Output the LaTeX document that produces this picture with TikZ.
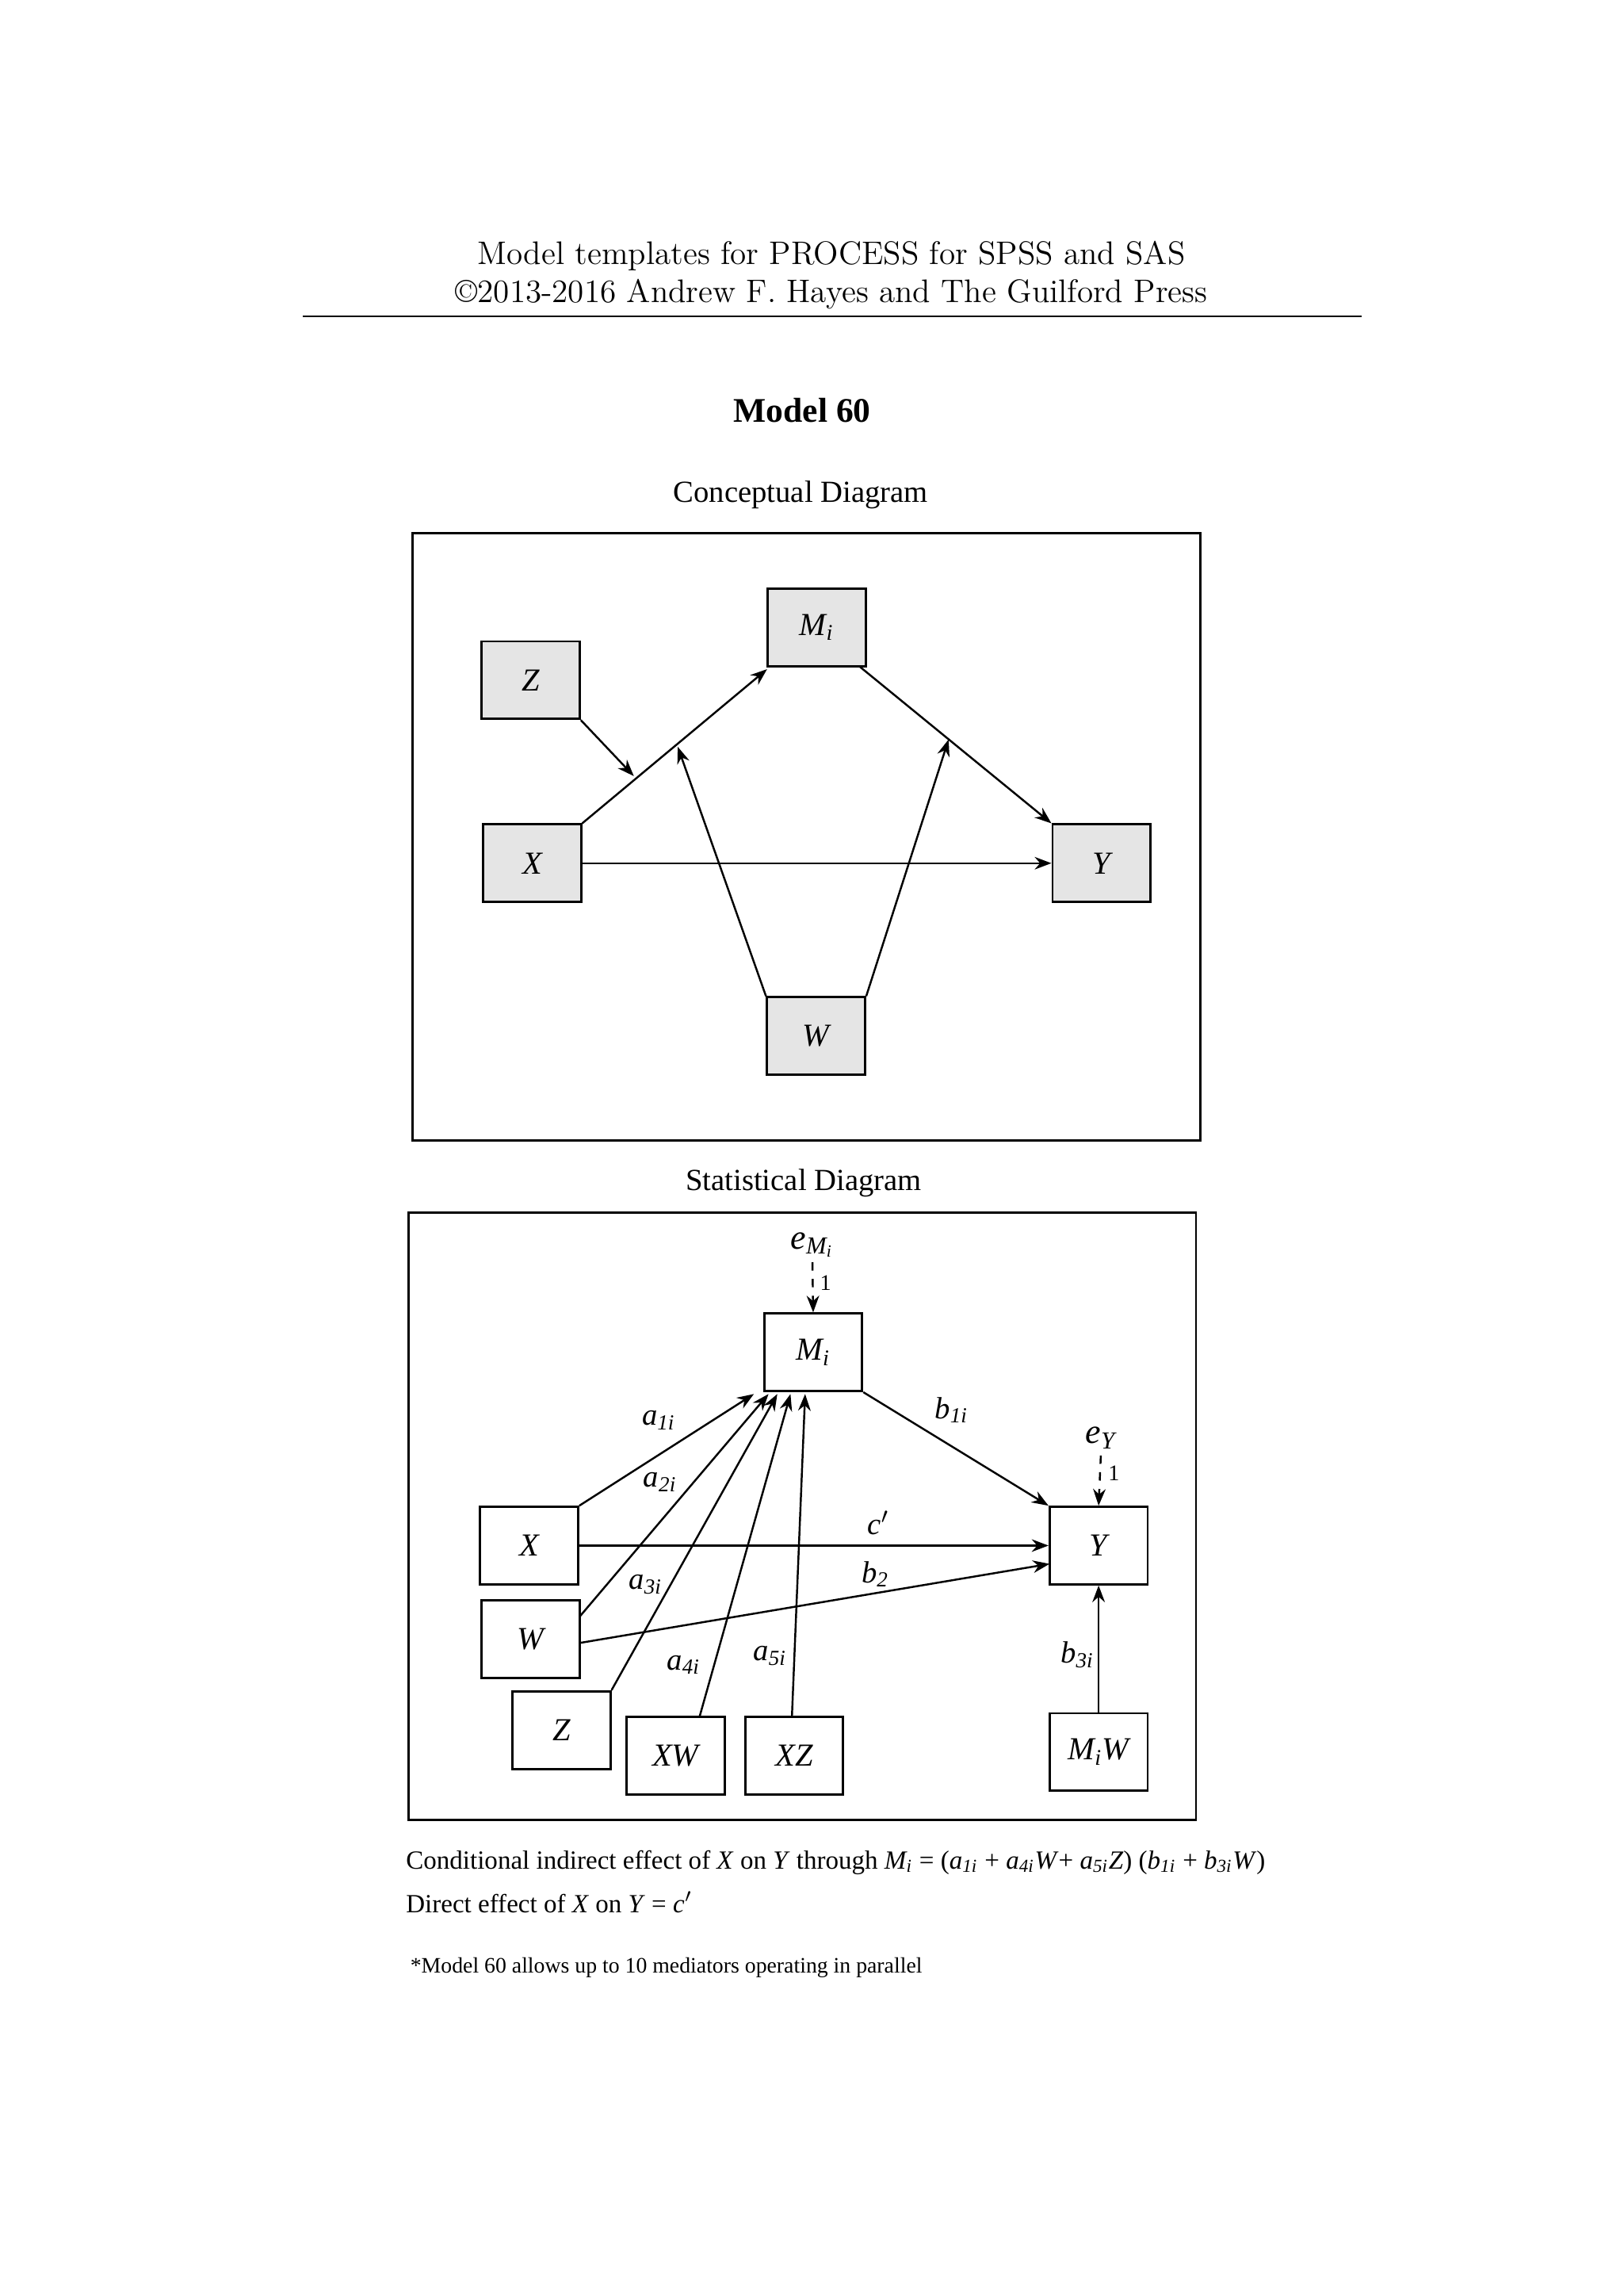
\documentclass[tikz,border=0pt]{standalone}
\usepackage{fontspec}
\setmainfont{Liberation Serif}
\newfontfamily\lmr{Latin Modern Roman}
\usetikzlibrary{arrows.meta}
\newcommand\sbi[1]{\textsubscript{#1}}
\begin{document}
\begin{tikzpicture}[x=0.01846cm,y=-0.01846cm,
 bx/.style={draw,line width=0.8pt,minimum width=1.237cm,minimum height=0.978cm,inner sep=0pt,font=\fontsize{11.5}{14}\selectfont\itshape},
 gb/.style={bx,fill=gray!20},
 ar/.style={line width=0.7pt,-{Stealth[length=6pt,width=4.5pt]}},
 lb/.style={font=\fontsize{11}{13}\selectfont\itshape,inner sep=1pt}]
\useasboundingbox (0,0) rectangle (1109,1568);
\node[font=\lmr\fontsize{11.7}{14}\selectfont] (h1) at (568,175) {Model templates for PROCESS for SPSS and SAS};
\node[font=\lmr\fontsize{11.7}{14}\selectfont] (h2) at (568,201) {\textcopyright2013-2016 Andrew F. Hayes and The Guilford Press};
\draw[line width=0.5pt] (207,216) -- (930,216);
\node[font=\fontsize{12.4}{16}\selectfont\bfseries] (t) at (548,280) {Model 60};
\node[font=\fontsize{11}{14}\selectfont] (cd) at (547,338) {Conceptual Diagram};
\draw[line width=0.8pt] (282,364) rectangle (820,779);
\node[gb] (M) at (558,428.5) {M\sbi{i}};
\node[gb] (Z) at (362.5,464.5) {Z};
\node[gb] (X) at (363.5,589.5) {X};
\node[gb] (Y) at (752.5,589.5) {Y};
\node[gb] (W) at (557.5,707.5) {W};
\coordinate (p1) at (433,530);
\coordinate (p2) at (463,510);
\coordinate (p3) at (648,505);
\draw[ar] (X.north east) -- (524,457);
\draw[ar] (Z.south east) -- (p1);
\draw[ar] (X.east) -- (Y.west);
\draw[ar] (587,455) -- (Y.north west);
\draw[ar] (W.north west) -- (p2);
\draw[ar] (W.north east) -- (p3);
\node[font=\fontsize{11}{14}\selectfont] (sd) at (549,808) {Statistical Diagram};
\draw[line width=0.8pt] (279,828) rectangle (817,1243);
\node[bx] (M2) at (555.5,923.5) {M\sbi{i}};
\node[bx] (X2) at (361.5,1055.5) {X};
\node[bx] (W2) at (362.5,1119.5) {W};
\node[bx] (Z2) at (383.5,1181.5) {Z};
\node[bx] (XW) at (461.5,1199) {XW};
\node[bx] (XZ) at (542.5,1199) {XZ};
\node[bx] (Y2) at (750.5,1055.5) {Y};
\node[bx] (MW) at (750.5,1196.5) {M\sbi{i}W};
\node[lb] (eM) at (555,850) {\fontsize{12.5}{14}\selectfont e\sbi{M\sbi{i}}};
\node[lb] (eY) at (752,982) {\fontsize{12.5}{14}\selectfont e\sbi{Y}};
\draw[ar,dashed] (555,862) -- (M2.north);
\draw[ar,dashed] (752,994) -- (Y2.north);
\node[font=\fontsize{8}{9}\selectfont] at (564,876) {1};
\node[font=\fontsize{8}{9}\selectfont] at (761,1006) {1};
\draw[ar] (X2.north east) -- (515,952);
\draw[ar] (396,1104) -- (525,952);
\draw[ar] (Z2.north east) -- (531,952);
\draw[ar] (478,1172) -- (540,952);
\draw[ar] (541,1172) -- (550,952);
\draw[ar] (M2.south east) -- (Y2.north west);
\draw[ar] (X2.east) -- (Y2.west);
\draw[ar] (396,1122) -- (717,1068);
\draw[ar] (MW.north) -- (Y2.south);
\node[lb] at (450,970) {a\sbi{1\textit{i}}};
\node[lb] at (451,1012) {a\sbi{2\textit{i}}};
\node[lb] at (441,1082) {a\sbi{3\textit{i}}};
\node[lb] at (467,1137) {a\sbi{4\textit{i}}};
\node[lb] at (526,1131) {a\sbi{5\textit{i}}};
\node[lb] at (650,963) {b\sbi{1\textit{i}}};
\node[lb] at (600,1040) {c$'$};
\node[lb] at (598,1075) {b\sbi{2}};
\node[lb] at (736,1130) {b\sbi{3\textit{i}}};
\node[anchor=west,inner sep=0pt,font=\fontsize{9.4}{13}\selectfont] at (277,1272) {Conditional indirect effect of \textit{X} on \textit{Y} through \textit{M\sbi{i}} = (\textit{a\sbi{1i}} + \textit{a\sbi{4i}W}+ \textit{a\sbi{5i}Z}) (\textit{b\sbi{1i}} + \textit{b\sbi{3i}W})};
\node[anchor=west,inner sep=0pt,font=\fontsize{9.4}{13}\selectfont] at (277,1299) {Direct effect of \textit{X} on \textit{Y} = \textit{c}$'$};
\node[anchor=west,inner sep=0pt,font=\fontsize{7.9}{11}\selectfont] at (280,1344) {*Model 60 allows up to 10 mediators operating in parallel};
\end{tikzpicture}
\end{document}
